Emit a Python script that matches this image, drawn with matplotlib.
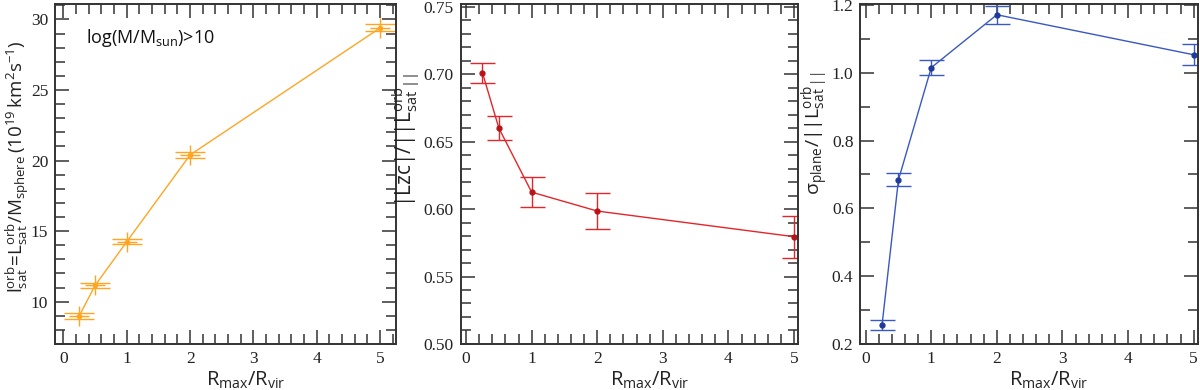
import numpy as np
import matplotlib
matplotlib.use('Agg')
import matplotlib.pyplot as plt
from matplotlib.ticker import MultipleLocator, FormatStrFormatter

plt.rcParams['mathtext.fontset'] = 'custom'
plt.rcParams['mathtext.rm'] = 'Open Sans'
plt.rcParams['mathtext.it'] = 'Open Sans'
plt.rcParams['mathtext.sf'] = 'Open Sans'
plt.rcParams['font.family'] = ['Liberation Serif', 'DejaVu Serif']

# R_max / R_vir
rmax = [0.25, 0.5, 1, 2, 5]

# left: specific orbital angular momentum (1e19 km^2/s)
l_orb = [9.0, 11.15, 14.25, 20.4, 29.4]
l_err = [0.2, 0.2, 0.2, 0.2, 0.25]

# middle: |Lzc| / ||L_sat^orb||
lzc = [0.701, 0.660, 0.6125, 0.5985, 0.5795]
lzc_err = [0.0075, 0.009, 0.011, 0.0134, 0.0157]

# right: sigma_plane / ||L_sat^orb||
sig = [0.256, 0.684, 1.015, 1.171, 1.053]
sig_err = [0.014, 0.019, 0.022, 0.027, 0.031]

fig = plt.figure(figsize=(12, 3.9), dpi=100)
ax1 = fig.add_axes([0.046, 0.118, 0.284, 0.872])
ax2 = fig.add_axes([0.384, 0.118, 0.281, 0.872])
ax3 = fig.add_axes([0.717, 0.118, 0.281, 0.872])

orange = '#FFA522'
red = '#E2262B'
blue = '#3A58C2'

ax1.errorbar(rmax, l_orb, yerr=l_err, color=orange, lw=1.0, capsize=11,
             capthick=1.0, elinewidth=1.0, marker='o', ms=3)
ax1.plot(rmax, l_orb, '+', color=orange, ms=15, mew=1.0)
ax2.errorbar(rmax, lzc, yerr=lzc_err, color=red, lw=1.0, capsize=9,
             capthick=1.0, elinewidth=1.0, marker='o', ms=3.5, mfc='#B81418', mec='#B81418')
ax3.errorbar(rmax, sig, yerr=sig_err, color=blue, lw=1.0, capsize=9,
             capthick=1.0, elinewidth=1.0, marker='o', ms=3.5, mfc='#1E3A9A', mec='#1E3A9A')

ax1.set_xlim(-0.13, 5.25)
ax1.set_ylim(7.0, 31.1)
ax1.yaxis.set_major_locator(MultipleLocator(5))
ax1.yaxis.set_minor_locator(MultipleLocator(1))

ax2.set_xlim(-0.08, 5.06)
ax2.set_ylim(0.50, 0.752)
ax2.yaxis.set_major_locator(MultipleLocator(0.05))
ax2.yaxis.set_minor_locator(MultipleLocator(0.01))
ax2.yaxis.set_major_formatter(FormatStrFormatter('%.2f'))

ax3.set_xlim(-0.08, 5.06)
ax3.set_ylim(0.2, 1.203)
ax3.yaxis.set_major_locator(MultipleLocator(0.2))
ax3.yaxis.set_minor_locator(MultipleLocator(0.1))
ax3.yaxis.set_major_formatter(FormatStrFormatter('%.1f'))

for ax in (ax1, ax2, ax3):
    ax.xaxis.set_major_locator(MultipleLocator(1))
    ax.xaxis.set_minor_locator(MultipleLocator(0.2))
    ax.tick_params(which='both', direction='in', top=True, right=True,
                   color='#333333', width=1.1, labelsize=12.5, labelcolor='#222222')
    ax.tick_params(which='major', length=10, pad=5)
    ax.tick_params(which='minor', length=7)
    for s in ax.spines.values():
        s.set_linewidth(1.4)
        s.set_color('#333333')
    ax.set_xlabel(r'$\mathrm{R_{max}/R_{vir}}$', fontsize=14.5, labelpad=0, color='#222222')
    ax.xaxis.set_label_coords(0.56, -0.075, transform=ax.transAxes)
    ax.xaxis.label.set_va('top')

ax1.set_ylabel(r'$\mathrm{l_{sat}^{orb}\!=\!L_{sat}^{orb}/M_{sphere}\,(10^{19}\,km^2s^{-1})}$',
               fontsize=13.5, labelpad=1, color='#222222')
ax1.yaxis.set_label_coords(-0.07, 0.52)
ax2.set_ylabel(r'$\mathrm{|Lzc|/||L_{sat}^{orb}{}_{||}}$', fontsize=15, labelpad=0, color='#222222')
ax2.yaxis.set_label_coords(-0.115, 0.6)
ax3.set_ylabel(r'$\mathrm{\sigma_{plane}/||L_{sat}^{orb}{}_{||}}$', fontsize=14, labelpad=4, color='#222222')
ax3.yaxis.set_label_coords(-0.088, 0.62)

ax1.text(0.09, 0.885, r'$\mathrm{log(M/M_{sun})}$>10', transform=ax1.transAxes,
         fontsize=13, family='Open Sans', color='#111111')

fig.savefig('out.png', dpi=100)
